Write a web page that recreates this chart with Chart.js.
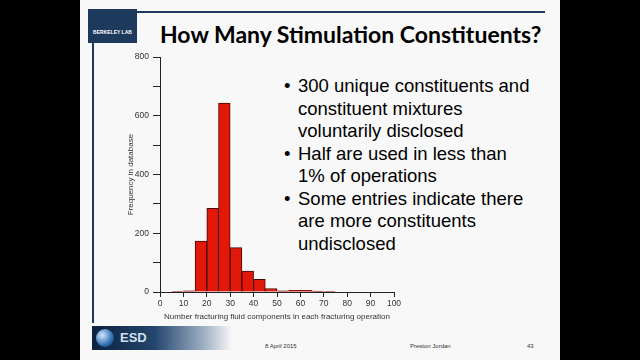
<!DOCTYPE html>
<html>
<head>
<meta charset="utf-8">
<script src="https://cdn.jsdelivr.net/npm/chart.js@4.4.1/dist/chart.umd.min.js"></script>
<style>
  html, body { margin: 0; padding: 0; background: #000; }
  #slide { position: absolute; left: 80px; top: 0; width: 480px; height: 360px; background: #f8f8f8; overflow: hidden; font-family: "Liberation Sans", Arial, sans-serif; }
  .abs { position: absolute; }
  #logo { left: 8px; top: 9px; width: 49px; height: 34px; background: #1d3a5c; color: #fff; font-size: 5px; font-weight: bold; text-align: center; }
  #topline { left: 57px; top: 11px; width: 408px; height: 2px; background: #1d3a5c; }
  #sideline { left: 12px; top: 43px; width: 2px; height: 280px; background: #1d3a5c; }
  #title { left: 80px; top: 20px; font-family: Lato, "Open Sans", sans-serif; font-weight: bold; font-size: 23px; color: #000; white-space: nowrap; }
  #bullets { left: 204px; top: 75px; font-size: 18.5px; line-height: 22.5px; color: #000; }
  #bullets div { position: relative; padding-left: 14px; }
  #bullets div span.b { position: absolute; left: 0; top: 0; }
  #esd { left: 12px; top: 326px; width: 140px; height: 24px; background: linear-gradient(90deg, #0c2140 0%, #24466e 45%, #9fb0c4 80%, rgba(248,248,248,0) 100%); color: #cfe0f0; font-size: 13px; font-weight: bold; line-height: 24px; padding-left: 28px; box-sizing: border-box; }
  #esd i { position: absolute; left: 4px; top: 3px; width: 18px; height: 18px; border-radius: 50%; background: radial-gradient(circle at 35% 35%, #cfe6ff, #2f6fb0 60%, #0b2b55); }
  .foot { top: 343px; font-size: 6px; color: #333; }
  #chartbox { position: absolute; left: 110px; top: 48px; width: 300px; height: 280px; }
</style>
</head>
<body>
<div id="slide">
  <div id="logo" class="abs"><div style="margin-top:20px">BERKELEY LAB</div></div>
  <div id="topline" class="abs"></div>
  <div id="sideline" class="abs"></div>
  <div id="title" class="abs">How Many Stimulation Constituents?</div>
  <div id="bullets" class="abs">
    <div><span class="b">•</span>300 unique constituents and<br>constituent mixtures<br>voluntarily disclosed</div>
    <div><span class="b">•</span>Half are used in less than<br>1% of operations</div>
    <div><span class="b">•</span>Some entries indicate there<br>are more constituents<br>undisclosed</div>
  </div>
  <div id="esd" class="abs"><i></i>ESD</div>
  <div class="abs foot" style="left:185px">8 April 2015</div>
  <div class="abs foot" style="left:330px">Preston Jordan</div>
  <div class="abs foot" style="left:447px">43</div>
</div>
<div id="chartbox"><canvas id="hist"></canvas></div>
<script>
// histogram bins of width 5 (start of each bin) and counts
const binStarts = [5, 10, 15, 20, 25, 30, 35, 40, 45, 50, 55, 60, 65, 70];
const counts = [2, 4, 173, 285, 643, 151, 71, 43, 12, 4, 6, 6, 3, 2];
const binWidth = 5;
const yTickLabels = [0, 200, 400, 600, 800];

const points = binStarts.map((s, i) => ({ x: s + binWidth / 2, y: counts[i] }));

new Chart(document.getElementById("hist"), {
  type: "bar",
  data: {
    datasets: [
      {
        data: points,
        backgroundColor: "#e2180b",
        borderColor: "#4a0a04",
        borderWidth: 1,
        barPercentage: 1,
        categoryPercentage: 1,
      },
    ],
  },
  options: {
    responsive: true,
    maintainAspectRatio: false,
    animation: false,
    layout: { padding: { top: 8, right: 16, left: 0, bottom: 0 } },
    plugins: { legend: { display: false }, tooltip: { enabled: false } },
    scales: {
      x: {
        type: "linear",
        min: 0,
        max: 100,
        offset: false,
        grid: { offset: false, drawOnChartArea: false, tickLength: 5, color: "#222" },
        border: { display: true, color: "#222" },
        ticks: { stepSize: 10, padding: 2, color: "#333", font: { family: "Liberation Sans", size: 8.5 }, maxRotation: 0 },
        title: { display: true, text: "Number fracturing fluid components in each fracturing operation", color: "#333", font: { family: "Liberation Sans", size: 8 }, padding: { top: 0, bottom: 6 } },
        afterFit: (s) => { s.height = 36; },
      },
      y: {
        min: 0,
        max: 800,
        grid: { drawOnChartArea: false, tickLength: 7, color: "#222" },
        border: { display: true, color: "#222" },
        ticks: {
          stepSize: 100,
          padding: 4,
          color: "#333",
          font: { family: "Liberation Sans", size: 8.5 },
          callback: (v) => (yTickLabels.includes(v) ? v : ""),
        },
        title: { display: true, text: "Frequency in database", color: "#333", font: { family: "Liberation Sans", size: 8 }, padding: { top: 16, bottom: 0 } },
        afterFit: (s) => { s.width = 50; },
      },
    },
  },
});
</script>
</body>
</html>
